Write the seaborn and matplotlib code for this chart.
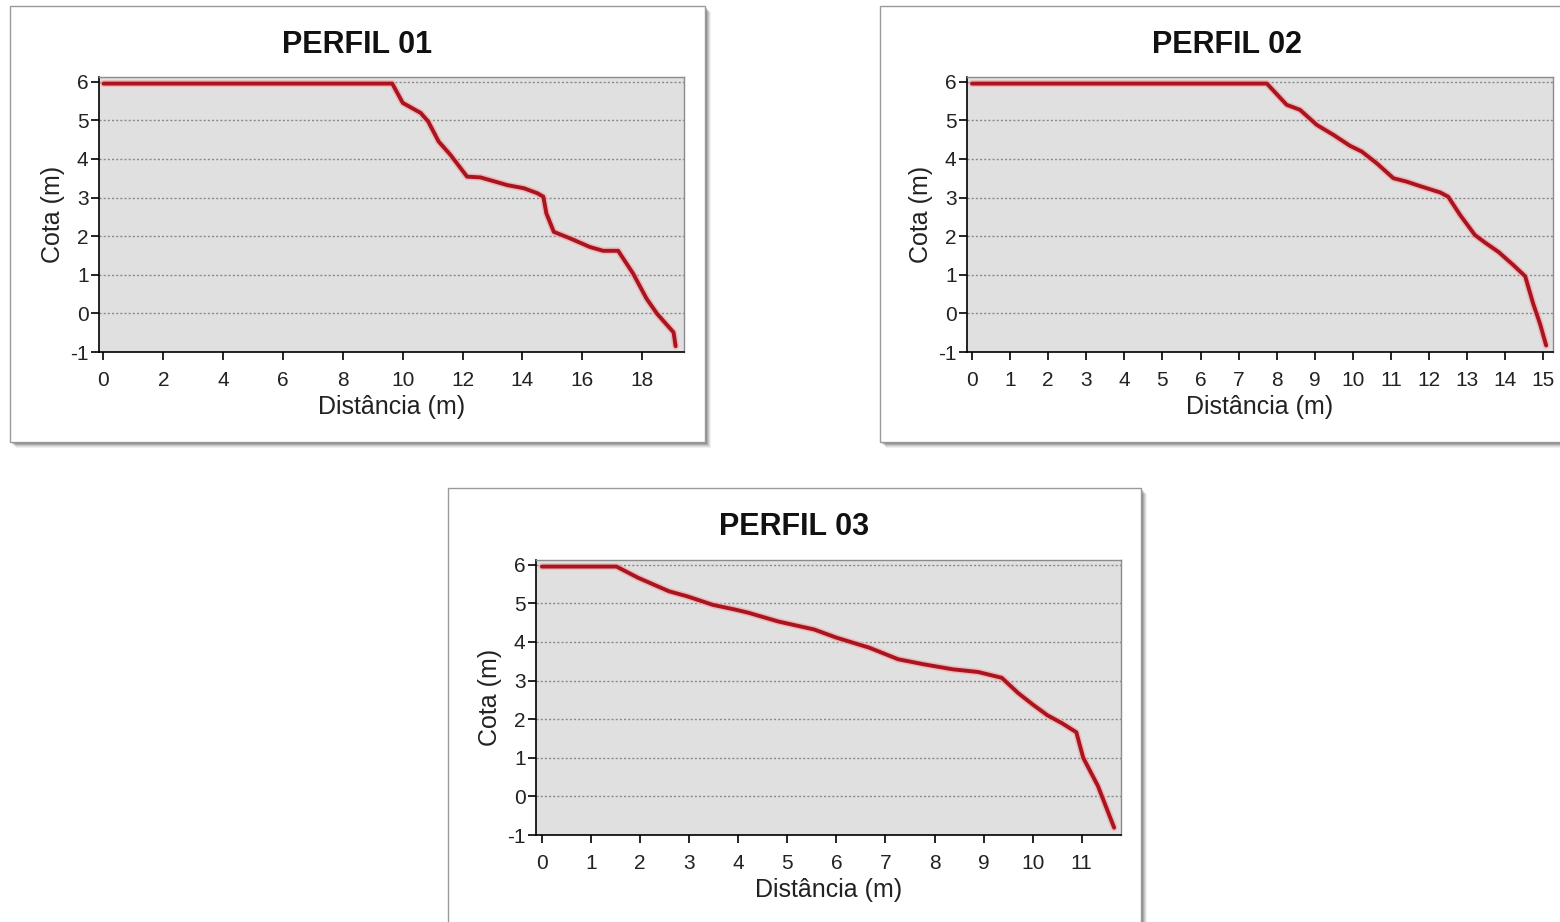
import numpy as np
import matplotlib
matplotlib.use("Agg")
import matplotlib.pyplot as plt
import matplotlib.patches as mpatches
import pandas as pd
import seaborn as sns

# perfil data (distance m, elevation m)
p1_x = [0.0, 9.65, 10.0, 10.6, 10.85, 11.2, 11.6, 12.15, 12.6, 13.5, 14.05, 14.5, 14.7,
        14.8, 15.05, 15.6, 16.25, 16.7, 17.2, 17.7, 18.15, 18.5, 18.9, 19.05, 19.12]
p1_y = [5.95, 5.95, 5.45, 5.19, 4.97, 4.45, 4.10, 3.54, 3.52, 3.32, 3.24, 3.11, 3.02,
        2.59, 2.11, 1.94, 1.72, 1.62, 1.62, 1.03, 0.38, -0.01, -0.36, -0.49, -0.85]

p2_x = [0.0, 7.74, 8.26, 8.61, 9.05, 9.49, 9.92, 10.23, 10.62, 11.06, 11.41, 11.81, 12.29,
        12.5, 12.81, 13.2, 13.47, 13.82, 14.21, 14.52, 14.73, 14.91, 15.07]
p2_y = [5.95, 5.95, 5.40, 5.27, 4.88, 4.62, 4.34, 4.19, 3.89, 3.50, 3.41, 3.28, 3.13,
        3.02, 2.55, 2.03, 1.83, 1.59, 1.25, 0.96, 0.25, -0.27, -0.83]

p3_x = [0.0, 1.52, 1.96, 2.59, 2.96, 3.48, 3.96, 4.22, 4.81, 5.55, 6.0, 6.67, 7.26, 7.78,
        8.37, 8.89, 9.37, 9.70, 10.0, 10.3, 10.59, 10.89, 11.03, 11.33, 11.66]
p3_y = [5.95, 5.95, 5.66, 5.31, 5.18, 4.96, 4.83, 4.75, 4.53, 4.32, 4.11, 3.85, 3.55, 3.42,
        3.29, 3.22, 3.07, 2.68, 2.38, 2.10, 1.90, 1.66, 1.00, 0.27, -0.81]

titles = ["PERFIL 01", "PERFIL 02", "PERFIL 03"]
y_ticks = list(range(-1, 7))

sns.set_theme(style="ticks")
plt.rcParams['font.family'] = ['Liberation Sans', 'DejaVu Sans']
plt.rcParams['axes.unicode_minus'] = False

W, H = 1560, 922
fig = plt.figure(figsize=(W / 100, H / 100), dpi=100)
fig.patch.set_facecolor("white")


def fig_rect(l, t, r, b):
    return [l / W, 1 - b / H, (r - l) / W, (b - t) / H]


def draw_box(l, t, r, b):
    # soft drop shadow, then the white frame
    for i, a in zip(range(6, 0, -1), [0.06, 0.08, 0.10, 0.13, 0.16, 0.2]):
        x0, y0, w, h = fig_rect(l + i, t + i, r + i, b + i)
        fig.patches.append(mpatches.Rectangle((x0, y0), w, h, transform=fig.transFigure,
                                              facecolor="black", edgecolor="none",
                                              alpha=a, zorder=-3))
    x0, y0, w, h = fig_rect(l, t, r, b)
    fig.patches.append(mpatches.Rectangle((x0, y0), w, h, transform=fig.transFigure,
                                          facecolor="white", edgecolor="#9a9a9a",
                                          linewidth=1, zorder=-2))


# box (l, t, r, b), axes (l, t, r, b), xlim, xticks, title y
layout = [
    ((10, 6, 705, 442), (99, 77, 684, 352), (-0.15, 19.4), list(range(0, 19, 2)), 45),
    ((880, 6, 1575, 442), (967, 77, 1553, 352), (-0.13, 15.25), list(range(0, 16)), 45),
    ((448, 488, 1141, 935), (536, 560, 1121, 835), (-0.12, 11.8), list(range(0, 12)), 527),
]
profiles = [(p1_x, p1_y), (p2_x, p2_y), (p3_x, p3_y)]

for (box, axr, xlim, xt, ty), (px, py), title in zip(layout, profiles, titles):
    draw_box(*box)
    ax = fig.add_axes(fig_rect(*axr))
    ax.set_facecolor("#e0e0e0")
    df = pd.DataFrame({"dist": px, "cota": py})
    # pale halo under the line
    sns.lineplot(data=df, x="dist", y="cota", ax=ax, color="#f2a8a8", linewidth=5,
                 estimator=None, sort=False, alpha=0.7)
    sns.lineplot(data=df, x="dist", y="cota", ax=ax, color="#a81420", linewidth=2.8,
                 estimator=None, sort=False)
    ax.set_xlim(*xlim)
    ax.set_ylim(-1, 6.12)
    ax.set_xticks(xt)
    ax.set_yticks(y_ticks)
    ax.yaxis.grid(True, linestyle=(0, (1.5, 1.5)), color="#8a8a8a", linewidth=1)
    ax.xaxis.grid(False)
    ax.set_axisbelow(True)
    for s in ["top", "right"]:
        ax.spines[s].set_visible(True)
        ax.spines[s].set_color("#8c8c8c")
        ax.spines[s].set_linewidth(1)
    for s in ["left", "bottom"]:
        ax.spines[s].set_color("black")
        ax.spines[s].set_linewidth(1.2)
    ax.tick_params(axis="both", direction="out", length=5.5, width=1.2, color="black",
                   labelsize=15, labelcolor="#222222")
    ax.tick_params(axis="x", pad=8)
    ax.tick_params(axis="y", pad=2)
    ax.set_xlabel("Distância (m)", fontsize=18, color="#222222", labelpad=4)
    ax.set_ylabel("Cota (m)", fontsize=18, color="#222222", labelpad=4)
    cx = (box[0] + box[2]) / 2
    fig.text(cx / W, 1 - ty / H, title,
             ha="center", va="center", fontsize=22, fontweight="bold", color="#111111")

fig.savefig("out.png", dpi=100, facecolor="white")
